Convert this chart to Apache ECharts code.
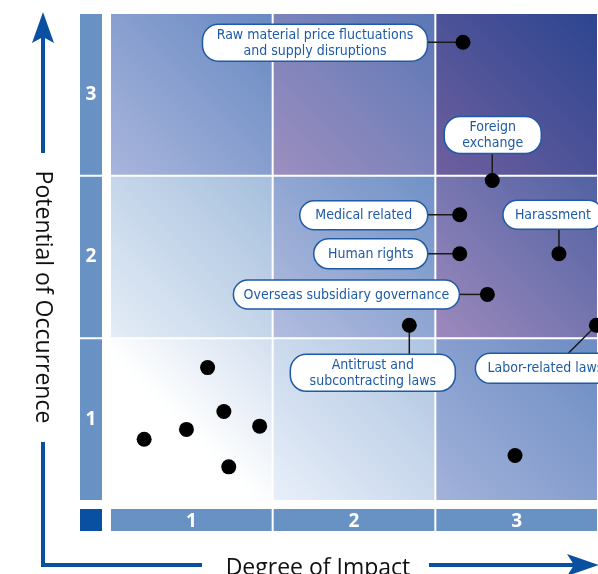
<!DOCTYPE html>
<html><head><meta charset="utf-8">
<script src="https://cdn.jsdelivr.net/npm/echarts@6/dist/echarts.min.js"></script>
<style>html,body{margin:0;padding:0;background:#fff}#c{width:598px;height:574px}</style>
</head><body><div id="c"></div>
<script>
// ---- data ----
const impactTicks = ['1', '2', '3'];
const occurrenceTicks = ['1', '2', '3'];
const riskNames = [
  'Raw material price fluctuations\nand supply disruptions',
  'Foreign\nexchange',
  'Medical related',
  'Harassment',
  'Human rights',
  'Overseas subsidiary governance',
  'Antitrust and\nsubcontracting laws',
  'Labor-related laws'
];
const riskImpact     = [2.17, 2.35, 2.15, 2.76, 2.15, 2.32, 1.84, 2.99];
const riskOccurrence = [2.82, 1.97, 1.76, 1.52, 1.52, 1.27, 1.08, 1.08];
const otherImpact     = [0.21, 0.47, 0.70, 0.92, 0.73, 0.60, 2.49];
const otherOccurrence = [0.38, 0.44, 0.55, 0.46, 0.21, 0.82, 0.28];

// ---- label layout (pixels, relative to the point) : [boxDx, boxDy, boxW, boxH, lineDx, lineDy]
const labelLayout = [
  [-148, 0.5, 225, 37, -35, 0],
  [0.5, -45.5, 97, 37, 0, -27],
  [-96, 0.5, 128, 29, -32, 0],
  [-6, -39, 100, 29, 0, -25],
  [-89, 0, 114, 30, -32, 0],
  [-141, 0, 226, 29, -28, 0],
  [-36.5, 47.5, 165, 37, 0, 29],
  [-51, 43, 140, 30, -28, 28]
];
// cell gradients: [row][col] -> [bottom-left colour, top-right colour]
const cellColors = [
  [['#ffffff', '#d3dfef'], ['#e8eff9', '#aec4e1'], ['#a2b2da', '#6c8cc3']],
  [['#e4edf7', '#a6bfdd'], ['#b2bcdf', '#7092c6'], ['#9c89bc', '#5262a3']],
  [['#a8b5dc', '#6889c2'], ['#9d8ebf', '#5b78b6'], ['#6e5f9f', '#2c4590']]
];
const BAND = '#6892c4';
const DARK = '#0a50a0';
const LABEL_FONT = '"Liberation Sans Narrow", "DejaVu Sans Condensed", sans-serif';
const TITLE_FONT = '"Open Sans", "Noto Sans", sans-serif';

const cells = [];
for (let r = 0; r < occurrenceTicks.length; r++)
  for (let c = 0; c < impactTicks.length; c++) cells.push([c, r]);

const chart = echarts.init(document.getElementById('c'), null, {renderer: 'canvas'});

const option = {
  animation: false,
  grid: {left: 110, top: 13, width: 488, height: 488, containLabel: false},
  xAxis: [
    {type: 'value', min: 0, max: 3, interval: 1, show: false},
    {type: 'category', data: impactTicks, position: 'bottom', boundaryGap: true,
     axisLine: {show: false}, axisTick: {show: false}, splitLine: {show: false},
     axisLabel: {margin: 11, color: '#fff', fontWeight: 'bold', fontSize: 19, fontFamily: TITLE_FONT}}
  ],
  yAxis: [
    {type: 'value', min: 0, max: 3, interval: 1, show: false},
    {type: 'category', data: occurrenceTicks, position: 'left', boundaryGap: true,
     axisLine: {show: false}, axisTick: {show: false}, splitLine: {show: false},
     axisLabel: {margin: 19, align: 'center', color: '#fff', fontWeight: 'bold', fontSize: 19, fontFamily: TITLE_FONT}}
  ],
  graphic: [
    {type: 'rect', shape: {x: 80, y: 509, width: 22, height: 22}, style: {fill: DARK}, z: 10},
    // vertical arrow
    {type: 'rect', shape: {x: 41, y: 36, width: 4, height: 117}, style: {fill: DARK}},
    {type: 'polygon', shape: {points: [[43, 12], [54, 43], [43, 37], [32, 43]]}, style: {fill: DARK}},
    {type: 'text', x: 43, y: 297, rotation: -Math.PI / 2,
     style: {text: 'Potential of Occurrence', align: 'center', verticalAlign: 'middle',
             fontSize: 23, fontFamily: TITLE_FONT, fill: '#111'}},
    // L line and horizontal arrow
    {type: 'rect', shape: {x: 41, y: 442, width: 4, height: 125}, style: {fill: DARK}},
    {type: 'rect', shape: {x: 41, y: 563, width: 161, height: 4}, style: {fill: DARK}},
    {type: 'text', x: 318, y: 568,
     style: {text: 'Degree of Impact', align: 'center', verticalAlign: 'middle',
             fontSize: 23, fontFamily: TITLE_FONT, fill: '#111'}},
    {type: 'rect', shape: {x: 429, y: 563, width: 145, height: 4}, style: {fill: DARK}},
    {type: 'polygon', shape: {points: [[599, 565], [567, 554], [574, 565], [567, 576]]}, style: {fill: DARK}}
  ],
  series: [
    { // cells
      type: 'custom', xAxisIndex: 0, yAxisIndex: 0, z: 0, silent: true,
      data: cells,
      renderItem: function (params, api) {
        const c = api.value(0), r = api.value(1);
        const p0 = api.coord([c, r + 1]);
        const p1 = api.coord([c + 1, r]);
        const col = cellColors[r][c];
        const stops = (r === 0 && c === 0)
          ? [{offset: 0, color: col[0]}, {offset: 0.45, color: col[0]}, {offset: 1, color: col[1]}]
          : [{offset: 0, color: col[0]}, {offset: 1, color: col[1]}];
        return {
          type: 'rect',
          shape: {x: p0[0] + 1, y: p0[1] + 1, width: p1[0] - p0[0] - 2, height: p1[1] - p0[1] - 2},
          style: {fill: new echarts.graphic.LinearGradient(0, 1, 1, 0, stops)}
        };
      }
    },
    { // axis bands
      type: 'custom', xAxisIndex: 0, yAxisIndex: 0, z: 0, silent: true, clip: false,
      data: impactTicks.map((t, i) => [i, 0]).concat(occurrenceTicks.map((t, i) => [i, 1])),
      renderItem: function (params, api) {
        const k = api.value(0), isY = api.value(1) === 1;
        if (!isY) {
          const a = api.coord([k, 0]), b = api.coord([k + 1, 0]);
          return {type: 'rect', shape: {x: a[0] + 1, y: a[1] + 8, width: b[0] - a[0] - 2, height: 22}, style: {fill: BAND}};
        } else {
          const a = api.coord([0, k + 1]), b = api.coord([0, k]);
          return {type: 'rect', shape: {x: a[0] - 30, y: a[1] + 1, width: 22, height: b[1] - a[1] - 2}, style: {fill: BAND}};
        }
      }
    },
    { // labels with connectors
      type: 'custom', xAxisIndex: 0, yAxisIndex: 0, z: 3, clip: false, silent: true,
      data: riskImpact.map((v, i) => [v, riskOccurrence[i]]),
      renderItem: function (params, api) {
        const p = api.coord([api.value(0), api.value(1)]);
        const L = labelLayout[params.dataIndex];
        const cx = p[0] + L[0], cy = p[1] + L[1], w = L[2], h = L[3];
        return {
          type: 'group',
          children: [
            {type: 'line', shape: {x1: p[0], y1: p[1], x2: p[0] + L[4], y2: p[1] + L[5]},
             style: {stroke: '#1a1a1a', lineWidth: 1.5}},
            {type: 'rect', shape: {x: cx - w / 2, y: cy - h / 2, width: w, height: h, r: Math.min(h / 2, 16)},
             style: {fill: '#fff', stroke: '#1f5aa6', lineWidth: 1.5}},
            {type: 'text', style: {text: riskNames[params.dataIndex], x: cx, y: cy + 0.5,
              align: 'center', verticalAlign: 'middle', fill: '#1f5aa6',
              fontSize: 14, lineHeight: 16, fontFamily: LABEL_FONT}}
          ]
        };
      }
    },
    {
      type: 'scatter', xAxisIndex: 0, yAxisIndex: 0, z: 4, clip: false, silent: true,
      symbolSize: 15, itemStyle: {color: '#000', opacity: 1},
      data: riskImpact.map((v, i) => [v, riskOccurrence[i]])
        .concat(otherImpact.map((v, i) => [v, otherOccurrence[i]]))
    }
  ]
};
chart.setOption(option);
</script>
</body></html>
